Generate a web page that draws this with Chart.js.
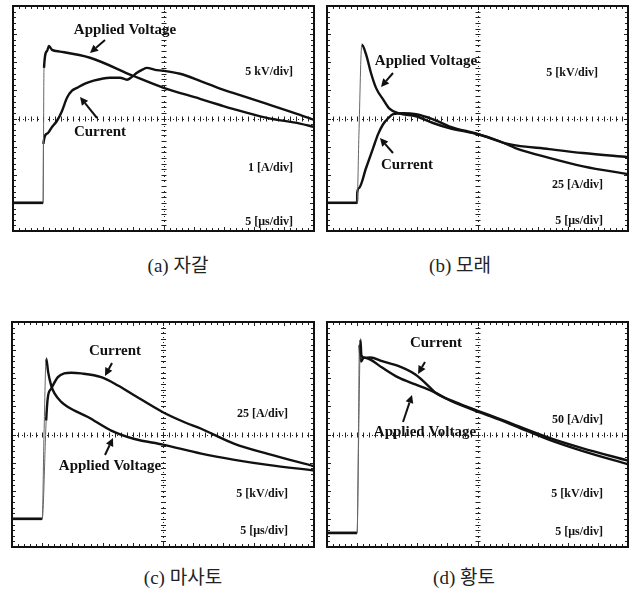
<!DOCTYPE html>
<html>
<head>
<meta charset="utf-8">
<script src="https://cdn.jsdelivr.net/npm/chart.js@4.4.1/dist/chart.umd.min.js"></script>
<style>
  html, body { margin: 0; padding: 0; background: #fff; }
  body { width: 635px; height: 589px; position: relative; overflow: hidden; }
  .panel { position: absolute; }
  .cap { position: absolute; transform: translate(-50%, -50%); white-space: nowrap;
         font: 19px "Liberation Serif", "Noto Sans CJK KR", serif; color: #222; }
</style>
</head>
<body>
<div class="panel" id="pa"><canvas id="ca"></canvas></div>
<div class="panel" id="pb"><canvas id="cb"></canvas></div>
<div class="panel" id="pc"><canvas id="cc"></canvas></div>
<div class="panel" id="pd"><canvas id="cd"></canvas></div>
<div class="cap" style="left:178px;top:263px">(a) 자갈</div>
<div class="cap" style="left:460px;top:263px">(b) 모래</div>
<div class="cap" style="left:183px;top:575px">(c) 마사토</div>
<div class="cap" style="left:464px;top:575px">(d) 황토</div>
<script>
// Time base of every trace: microseconds, 5 us per division, trigger at 0
const timeRange = [-5, 45];

// (a) 자갈 — applied voltage [kV] and current [A]
const aVoltT  = [-5, 0, 0.15, 0.65, 0.98, 1.48, 2.81, 7.79, 14.93, 19.92, 26.06, 29.38, 31.54, 37.19, 42.67, 45];
const aVoltKV = [0, 0, 24.0, 27.0, 27.9, 27.2, 26.9, 25.8, 22.6, 20.5, 18.5, 17.4, 16.7, 15.1, 14.1, 13.5];
const aCurT   = [-5, 0, 0.05, 0.65, 1.48, 2.31, 3.14, 3.97, 4.80, 5.63, 6.96, 8.28, 11.11, 12.77, 13.93, 14.76, 15.59, 16.43, 17.26, 18.59, 19.92, 22.74, 26.06, 29.38, 31.54, 37.19, 42.67, 45];
const aCurA   = [0, 0, 2.10, 2.46, 2.70, 2.92, 3.27, 3.74, 3.99, 4.09, 4.24, 4.34, 4.45, 4.45, 4.38, 4.48, 4.63, 4.73, 4.80, 4.73, 4.70, 4.59, 4.34, 4.06, 3.91, 3.52, 3.13, 2.95];

// (b) 모래
const bVoltT  = [-5, 0, 0.3, 0.78, 1.49, 2.33, 3.16, 4.32, 5.32, 6.98, 9.80, 12.62, 15.28, 20.10, 23.59, 26.41, 31.89, 37.54, 45];
const bVoltKV = [0, 0, 12, 28.1, 26.4, 23.0, 20.4, 18.4, 16.8, 15.9, 15.4, 14.2, 13.3, 12.2, 11.0, 9.7, 8.0, 6.5, 5.1];
const bCurT   = [-5, 0, 0.02, 0.33, 1.49, 2.66, 3.49, 4.32, 5.15, 5.98, 7.64, 9.80, 12.62, 15.28, 20.10, 25.25, 31.89, 37.54, 45];
const bCurA   = [0, 0, 8.9, 13.3, 31.0, 48.7, 61.1, 69.9, 75.2, 78.8, 79.7, 78.8, 74.3, 68.1, 61.1, 52.2, 47.8, 44.3, 40.7];

// (c) 마사토
const cVoltT  = [-5, 0, 0.3, 0.66, 1.0, 1.49, 2.04, 3.15, 4.26, 7.57, 11.43, 15.29, 19.99, 26.33, 31.84, 37.36, 45];
const cVoltKV = [0, 0, 15, 28.5, 26.0, 23.7, 22.3, 20.8, 19.9, 18.1, 15.7, 14.2, 13.2, 11.6, 10.5, 9.6, 8.6];
const cCurT   = [-5, 0, 0.66, 0.94, 1.49, 2.60, 3.64, 4.80, 6.46, 9.77, 12.54, 15.29, 19.99, 23.57, 26.33, 31.84, 37.36, 45];
const cCurA   = [0, 0, 87.5, 108.2, 115.7, 126.0, 129.3, 129.9, 129.3, 126.0, 118.6, 109.7, 94.8, 85.9, 80.1, 66.7, 57.8, 46.8];

// (d) 황토
const dVoltT  = [-5, 0, 0.3, 0.55, 0.71, 1.10, 2.21, 4.15, 6.91, 9.68, 12.46, 16.33, 19.93, 23.52, 26.29, 31.83, 37.37, 45];
const dVoltKV = [0, 0, 20, 34.4, 31.6, 31.2, 30.8, 29.4, 27.6, 26.4, 25.2, 23.1, 21.6, 20.2, 19.0, 16.6, 14.6, 12.2];
const dCurT   = [-5, 0, 0.2, 0.38, 0.63, 1.10, 2.21, 4.15, 6.91, 9.68, 12.46, 13.0, 16.33, 19.93, 23.52, 26.29, 31.83, 37.37, 45];
const dCurA   = [0, 0, 150, 335, 304.7, 311.3, 311.9, 305.3, 296.4, 281.6, 254.9, 249.1, 232.7, 217.6, 203.3, 191.8, 169.5, 150.9, 128.6];

// Vertical ranges (8 divisions each) for the voltage and current channels
const voltRange = { a: [-5, 35], b: [-5, 35], c: [-5, 35], d: [-2.5, 37.5] };
const curRange  = { a: [-1, 7], b: [-25, 175], c: [-25, 175], d: [-25, 375] };

// Screen frame of each scope panel
const PAD = 4;
const frames = {
  a: { left: 13, top: 6, w: 301, h: 225 },
  b: { left: 327, top: 6, w: 301, h: 225 },
  c: { left: 12, top: 322, w: 302, h: 225 },
  d: { left: 327, top: 322, w: 301, h: 225 }
};

// Annotations in panel-local pixels
const notes = {
  a: {
    text: [
      { s: 'Applied Voltage', x: 112, y: 24, big: true },
      { s: 'Current', x: 87, y: 126, big: true },
      { s: '5 kV/div]', x: 280, y: 66, right: true },
      { s: '1 [A/div]', x: 280, y: 162, right: true },
      { s: '5 [\u03bcs/div]', x: 280, y: 216, right: true }
    ],
    arrows: [[92, 34, 77, 47], [84, 112, 67, 91]]
  },
  b: {
    text: [
      { s: 'Applied Voltage', x: 99, y: 55, big: true },
      { s: 'Current', x: 80, y: 159, big: true },
      { s: '5 [kV/div]', x: 271, y: 67, right: true },
      { s: '25 [A/div]', x: 276, y: 179, right: true },
      { s: '5 [\u03bcs/div]', x: 276, y: 215, right: true }
    ],
    arrows: [[66, 67, 54, 81], [66, 147, 53, 132]]
  },
  c: {
    text: [
      { s: 'Current', x: 103, y: 29, big: true },
      { s: 'Applied Voltage', x: 98, y: 144, big: true },
      { s: '25 [A/div]', x: 276, y: 92, right: true },
      { s: '5 [kV/div]', x: 276, y: 172, right: true },
      { s: '5 [\u03bcs/div]', x: 276, y: 209, right: true }
    ],
    arrows: [[100, 41, 93, 54], [93, 133, 101, 116]]
  },
  d: {
    text: [
      { s: 'Current', x: 109, y: 21, big: true },
      { s: 'Applied Voltage', x: 98, y: 110, big: true },
      { s: '50 [A/div]', x: 276, y: 98, right: true },
      { s: '5 [kV/div]', x: 276, y: 172, right: true },
      { s: '5 [\u03bcs/div]', x: 276, y: 210, right: true }
    ],
    arrows: [[98, 40, 91, 52], [76, 100, 85, 73]]
  }
};

// Oscilloscope graticule: frame with minor ticks and a dotted centre cross
const scopeGrid = {
  id: 'scopeGrid',
  beforeDatasetsDraw(chart) {
    const { ctx, chartArea: { left, top, right, bottom } } = chart;
    const w = right - left, h = bottom - top;
    const cx = left + w / 2, cy = top + h / 2;
    ctx.save();
    ctx.strokeStyle = '#222';
    ctx.lineWidth = 1;
    // minor ticks on the frame
    ctx.beginPath();
    for (let i = 1; i < 50; i++) {
      const x = Math.round(left + w * i / 50) + 0.5;
      const len = i % 5 === 0 ? 4 : 3;
      ctx.moveTo(x, top); ctx.lineTo(x, top + len);
      ctx.moveTo(x, bottom); ctx.lineTo(x, bottom - len);
    }
    for (let j = 1; j < 40; j++) {
      const y = Math.round(top + h * j / 40) + 0.5;
      const len = j % 5 === 0 ? 4 : 3;
      ctx.moveTo(left, y); ctx.lineTo(left + len, y);
      ctx.moveTo(right, y); ctx.lineTo(right - len, y);
    }
    ctx.stroke();
    // dotted centre lines
    ctx.setLineDash([1, 4]);
    ctx.beginPath();
    ctx.moveTo(Math.round(cx) + 0.5, top); ctx.lineTo(Math.round(cx) + 0.5, bottom);
    ctx.moveTo(left, Math.round(cy) + 0.5); ctx.lineTo(right, Math.round(cy) + 0.5);
    ctx.stroke();
    ctx.setLineDash([]);
    // small crossing ticks on the centre lines
    ctx.beginPath();
    for (let i = 1; i < 50; i++) {
      const x = Math.round(left + w * i / 50) + 0.5;
      ctx.moveTo(x, cy - 2); ctx.lineTo(x, cy + 3);
    }
    for (let j = 1; j < 40; j++) {
      const y = Math.round(top + h * j / 40) + 0.5;
      ctx.moveTo(cx - 2, y); ctx.lineTo(cx + 3, y);
    }
    ctx.stroke();
    ctx.restore();
  },
  afterDatasetsDraw(chart, args, opts) {
    const { ctx, chartArea: { left, top, right, bottom } } = chart;
    ctx.save();
    ctx.strokeStyle = '#111';
    ctx.lineWidth = 2;
    ctx.strokeRect(left, top, right - left, bottom - top);
    const n = opts.notes;
    if (n) {
      ctx.fillStyle = '#111';
      ctx.textBaseline = 'middle';
      n.text.forEach(t => {
        ctx.font = t.big ? 'bold 15px "Liberation Serif", serif' : 'bold 12px "Liberation Serif", serif';
        ctx.textAlign = t.right ? 'right' : 'center';
        ctx.fillText(t.s, left + t.x, top + t.y);
      });
      ctx.strokeStyle = '#111';
      ctx.lineWidth = 2;
      n.arrows.forEach(([x1, y1, x2, y2]) => {
        const X1 = left + x1, Y1 = top + y1, X2 = left + x2, Y2 = top + y2;
        const ang = Math.atan2(Y2 - Y1, X2 - X1);
        const hl = 8, hw = 4;
        const bx = X2 - hl * Math.cos(ang), by = Y2 - hl * Math.sin(ang);
        ctx.beginPath(); ctx.moveTo(X1, Y1); ctx.lineTo(bx, by); ctx.stroke();
        ctx.beginPath();
        ctx.moveTo(X2, Y2);
        ctx.lineTo(bx + hw * Math.sin(ang), by - hw * Math.cos(ang));
        ctx.lineTo(bx - hw * Math.sin(ang), by + hw * Math.cos(ang));
        ctx.closePath(); ctx.fill();
      });
    }
    ctx.restore();
  }
};

function pts(ts, vs) { return ts.map((t, i) => ({ x: t, y: vs[i] })); }

// steep trigger edges are drawn as thin faint strokes, the rest as a heavy trace
function edgeWidth(ctx) {
  const dx = ctx.p1.x - ctx.p0.x, dy = Math.abs(ctx.p1.y - ctx.p0.y);
  return (dx < 4 && dy > 25) ? 1 : 2.4;
}
function edgeColor(ctx) {
  const dx = ctx.p1.x - ctx.p0.x, dy = Math.abs(ctx.p1.y - ctx.p0.y);
  return (dx < 4 && dy > 25) ? '#666' : '#111';
}

function trace(label, data, axis) {
  return {
    label, data, yAxisID: axis,
    borderColor: '#111', borderWidth: 2.4, pointRadius: 0,
    cubicInterpolationMode: 'monotone', fill: false,
    segment: { borderWidth: edgeWidth, borderColor: edgeColor }
  };
}

function makeScope(key, vT, vV, iT, iV) {
  const f = frames[key];
  const holder = document.getElementById('p' + key);
  holder.style.left = (f.left - PAD) + 'px';
  holder.style.top = (f.top - PAD) + 'px';
  const cv = document.getElementById('c' + key);
  cv.width = f.w + 2 * PAD; cv.height = f.h + 2 * PAD;
  cv.style.width = cv.width + 'px'; cv.style.height = cv.height + 'px';
  new Chart(cv, {
    type: 'line',
    data: {
      datasets: [
        trace('Applied Voltage', pts(vT, vV), 'yV'),
        trace('Current', pts(iT, iV), 'yI')
      ]
    },
    options: {
      responsive: false, animation: false, devicePixelRatio: 1,
      layout: { padding: PAD },
      scales: {
        x: { type: 'linear', min: timeRange[0], max: timeRange[1], display: false },
        yV: { type: 'linear', min: voltRange[key][0], max: voltRange[key][1], display: false },
        yI: { type: 'linear', min: curRange[key][0], max: curRange[key][1], display: false }
      },
      plugins: {
        legend: { display: false }, tooltip: { enabled: false },
        scopeGrid: { notes: notes[key] }
      }
    },
    plugins: [scopeGrid]
  });
}

makeScope('a', aVoltT, aVoltKV, aCurT, aCurA);
makeScope('b', bVoltT, bVoltKV, bCurT, bCurA);
makeScope('c', cVoltT, cVoltKV, cCurT, cCurA);
makeScope('d', dVoltT, dVoltKV, dCurT, dCurA);
</script>
</body>
</html>
